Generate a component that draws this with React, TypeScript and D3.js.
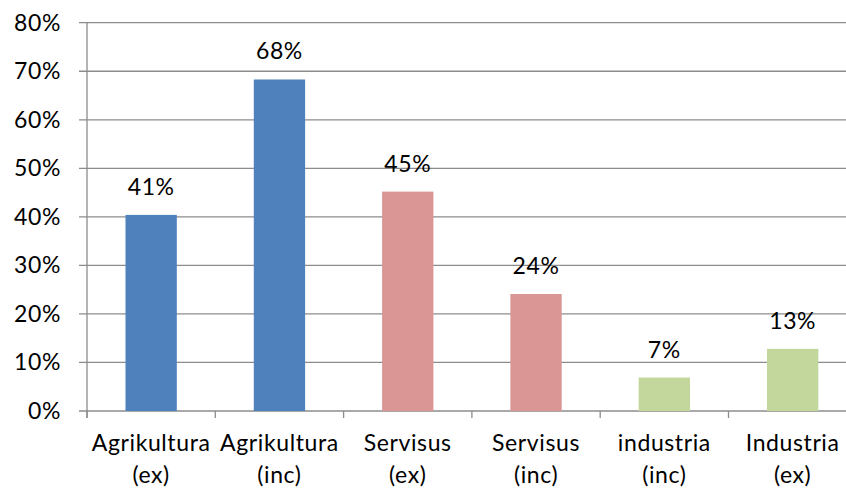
import React from 'react';
import { scaleBand, scaleLinear, range } from 'd3';

const labelTop = ['Agrikultura', 'Agrikultura', 'Servisus', 'Servisus', 'industria', 'Industria'];
const labelBottom = ['(ex)', '(inc)', '(ex)', '(inc)', '(inc)', '(ex)'];
const values = [40.4, 68.3, 45.2, 24.1, 6.9, 12.8];
const valueLabels = ['41%', '68%', '45%', '24%', '7%', '13%'];
const groups = ['agri', 'agri', 'serv', 'serv', 'ind', 'ind'];
const yTicks = [0, 10, 20, 30, 40, 50, 60, 70, 80];

const colors: Record<string, string> = { agri: '#4F81BD', serv: '#D99694', ind: '#C3D69B' };

const W = 846;
const H = 491;
const left = 87;
const bandW = 128.3;
const font = 'Lato, "Open Sans", sans-serif';
const fs = 23;
const ls = 0.6;

export default function App() {
  const idx = range(values.length);
  const x = scaleBand<number>().domain(idx).range([left, left + bandW * idx.length]).paddingInner(0).paddingOuter(0);
  const y = scaleLinear().domain([0, 80]).range([411, 22.7]);
  const barW = bandW * 0.4;
  const grid = '#8C8C8C';

  return (
    <svg width={W} height={H} style={{ position: 'absolute', left: 0, top: 0, background: '#fff' }}>
      {yTicks.map(t => (
        <g key={t}>
          <line x1={left - 8} x2={W} y1={y(t)} y2={y(t)} stroke={grid} strokeWidth={1.3} />
          <text x={61} y={y(t) + 8} textAnchor="end" fontFamily={font} fontSize={fs} letterSpacing={ls} fill="#000">{t}%</text>
        </g>
      ))}
      <line x1={left} x2={left} y1={y(80)} y2={y(0) + 7} stroke={grid} strokeWidth={1.3} />
      {range(idx.length + 1).map(i => (
        <line key={i} x1={left + i * bandW} x2={left + i * bandW} y1={y(0)} y2={y(0) + 7} stroke={grid} strokeWidth={1.3} />
      ))}
      {idx.map(i => {
        const cx = (x(i) as number) + bandW / 2;
        return (
          <g key={i}>
            <rect x={cx - barW / 2} y={y(values[i])} width={barW} height={y(0) - y(values[i])} fill={colors[groups[i]]} />
            <text x={cx} y={y(values[i]) - 20} textAnchor="middle" fontFamily={font} fontSize={fs} letterSpacing={ls} fill="#000">{valueLabels[i]}</text>
            <text x={cx} y={451} textAnchor="middle" fontFamily={font} fontSize={fs} letterSpacing={ls} fill="#000">{labelTop[i]}</text>
            <text x={cx} y={483} textAnchor="middle" fontFamily={font} fontSize={fs} letterSpacing={ls} fill="#000">{labelBottom[i]}</text>
          </g>
        );
      })}
    </svg>
  );
}
